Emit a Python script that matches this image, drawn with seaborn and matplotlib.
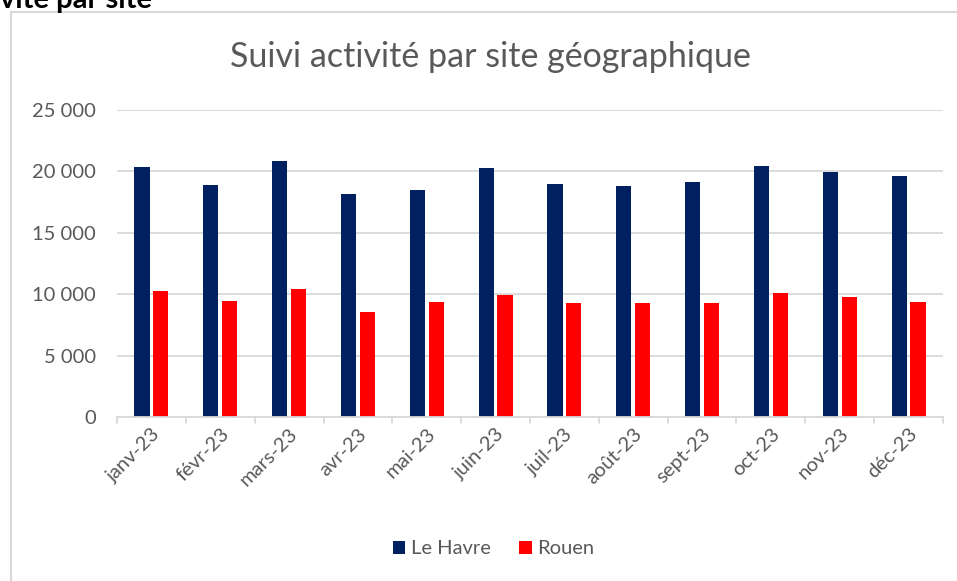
import matplotlib
matplotlib.use("Agg")
import matplotlib.pyplot as plt
import seaborn as sns
import pandas as pd
from matplotlib.ticker import FuncFormatter, FixedLocator
from matplotlib.lines import Line2D
from matplotlib.patches import Patch

months = ["janv-23", "févr-23", "mars-23", "avr-23", "mai-23", "juin-23",
          "juil-23", "août-23", "sept-23", "oct-23", "nov-23", "déc-23"]
le_havre = [20330, 18870, 20820, 18130, 18450, 20250, 19000, 18800, 19100, 20440, 19930, 19600]
rouen = [10290, 9450, 10400, 8520, 9350, 9900, 9250, 9250, 9260, 10070, 9770, 9340]
series_names = ["Le Havre", "Rouen"]
colors = ["#002060", "#FF0000"]
yticks = [0, 5000, 10000, 15000, 20000, 25000]

df = pd.DataFrame({
    "mois": months * 2,
    "valeur": le_havre + rouen,
    "site": [series_names[0]] * len(months) + [series_names[1]] * len(months),
})

sns.set_theme(style="white")
plt.rcParams["font.family"] = ["Lato", "DejaVu Sans"]

grey = "#595959"
fig = plt.figure(figsize=(9.57, 5.81), dpi=100)
ax = fig.add_axes([117 / 957, 1 - 417 / 581, 826 / 957, 307 / 581])

sns.barplot(data=df, x="mois", y="valeur", hue="site", order=months,
            hue_order=series_names, palette=colors, width=0.55, gap=0.2,
            ax=ax, legend=False, edgecolor="none", saturation=1)

ax.set_ylim(0, 25000)
ax.set_xlim(-0.5, len(months) - 0.5)
ax.yaxis.set_major_locator(FixedLocator(yticks))
ax.yaxis.set_major_formatter(FuncFormatter(lambda v, p: f"{int(v):,}".replace(",", " ")))
ax.grid(axis="y", color="#D9D9D9", linewidth=1.3)
ax.set_axisbelow(True)
for s in ["top", "right", "left"]:
    ax.spines[s].set_visible(False)
ax.spines["bottom"].set_color("#D9D9D9")
ax.spines["bottom"].set_linewidth(1.3)
ax.set_xlabel("")
ax.set_ylabel("")
ax.tick_params(axis="y", length=0, labelsize=14.5, labelcolor=grey, pad=15)
ax.tick_params(axis="x", length=0, labelsize=14.5, labelcolor=grey, pad=6)
for lab in ax.get_xticklabels():
    lab.set_rotation(45)
    lab.set_ha("right")
    lab.set_rotation_mode("anchor")
# category boundary ticks
for b in [i - 0.5 for i in range(len(months) + 1)]:
    ax.plot([b, b], [0, -0.018], transform=ax.get_xaxis_transform(), color="#D9D9D9",
            linewidth=1.3, clip_on=False)

fig.text(490 / 957, 1 - 57 / 581, "Suivi activité par site géographique", ha="center",
         va="center", fontsize=24.5, color=grey)

handles = [Patch(facecolor=c, edgecolor="none") for c in colors]
fig.legend(handles, series_names, loc="center", bbox_to_anchor=(494 / 957, 1 - 549 / 581),
           ncol=2, frameon=False, fontsize=14.5, labelcolor=grey, handlelength=0.6,
           handleheight=0.6, handletextpad=0.3, columnspacing=1.4)

# chart frame (top and left edges visible in crop)
fig.add_artist(Line2D([10.5 / 957, 10.5 / 957], [0, 1 - 12 / 581], transform=fig.transFigure,
                      color="#D9D9D9", linewidth=1.5))
fig.add_artist(Line2D([10.5 / 957, 1], [1 - 12 / 581, 1 - 12 / 581], transform=fig.transFigure,
                      color="#D9D9D9", linewidth=1.5))

# cropped heading above the chart
fig.text(152 / 957, 1 - 8 / 581, "Suivi activité par site", ha="right", va="baseline",
         fontsize=21, fontweight="bold", color="black")

fig.savefig("out.png", dpi=100)
